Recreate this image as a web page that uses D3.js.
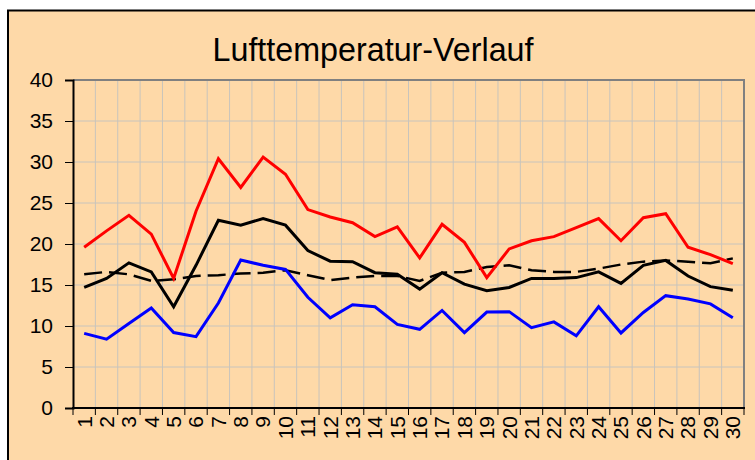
<!DOCTYPE html>
<html><head><meta charset="utf-8">
<script src="https://cdn.jsdelivr.net/npm/d3@7"></script>
<style>
html,body{margin:0;padding:0;background:#fff;}
svg{display:block;}
</style></head>
<body>
<svg id="chart" width="755" height="460"></svg>
<script>
const title = "Lufttemperatur-Verlauf";
const days = d3.range(1, 31).map(String);
const yTicks = [0, 5, 10, 15, 20, 25, 30, 35, 40];
const tMax = [19.6, 21.6, 23.5, 21.2, 15.8, 24.0, 30.4, 26.9, 30.6, 28.5, 24.2, 23.3, 22.6, 20.9, 22.1, 18.3, 22.4, 20.2, 15.9, 19.4, 20.4, 20.9, 22.0, 23.1, 20.4, 23.2, 23.7, 19.6, 18.7, 17.6];
const tMean = [14.7, 15.8, 17.7, 16.6, 12.35, 17.4, 22.9, 22.3, 23.1, 22.3, 19.2, 17.9, 17.85, 16.5, 16.3, 14.5, 16.5, 15.1, 14.3, 14.7, 15.8, 15.8, 15.9, 16.6, 15.2, 17.4, 18.0, 16.1, 14.8, 14.35];
const tMin = [9.1, 8.4, 10.3, 12.2, 9.2, 8.7, 12.8, 18.05, 17.4, 16.9, 13.5, 11.0, 12.6, 12.35, 10.2, 9.6, 11.9, 9.2, 11.7, 11.75, 9.8, 10.5, 8.8, 12.35, 9.15, 11.65, 13.7, 13.3, 12.7, 11.0];
const tNorm = [16.3, 16.6, 16.3, 15.5, 15.7, 16.1, 16.2, 16.4, 16.5, 16.8, 16.2, 15.6, 15.9, 16.1, 16.1, 15.5, 16.5, 16.6, 17.2, 17.4, 16.8, 16.6, 16.6, 17.0, 17.5, 17.85, 18.0, 17.85, 17.65, 18.25];

const bg = "#FED9A8";
const font = "Liberation Sans, Arial, Helvetica, sans-serif";
const svg = d3.select("#chart");

// outer frame
svg.append("rect").attr("x", 8).attr("y", 10.5).attr("width", 760).attr("height", 460)
  .attr("fill", bg).attr("stroke", "#000").attr("stroke-width", 2);

const L = 73, R = 744, T = 80, B = 408;
const x = d3.scaleBand().domain(days).range([L, R]);
const y = d3.scaleLinear().domain([0, 40]).range([B, T]);

// grid
const g = svg.append("g");
g.selectAll("line.h").data(yTicks.slice(1, -1)).join("line")
  .attr("x1", L).attr("x2", R).attr("y1", d => y(d)).attr("y2", d => y(d))
  .attr("stroke", "#C8C4BC").attr("stroke-width", 1);
g.selectAll("line.v").data(days.slice(1)).join("line")
  .attr("x1", d => x(d)).attr("x2", d => x(d)).attr("y1", T).attr("y2", B)
  .attr("stroke", "#C8C4BC").attr("stroke-width", 1);

// gray frame top/right
svg.append("path").attr("d", `M${L},${T}H${R}V${B}`).attr("fill", "none")
  .attr("stroke", "#808080").attr("stroke-width", 2);

// axes
const yAxis = d3.axisLeft(y).tickValues(yTicks).tickSize(8).tickPadding(12);
const ya = svg.append("g").attr("transform", `translate(${L},0)`).call(yAxis);
ya.select(".domain").attr("stroke", "#000").attr("stroke-width", 2);
ya.selectAll(".tick line").attr("stroke", "#000");
ya.selectAll("text").attr("font-family", font).attr("font-size", 21).attr("fill", "#000");

const xAxis = d3.axisBottom(x).tickSize(0).tickPadding(0);
const xa = svg.append("g").attr("transform", `translate(0,${B})`).call(xAxis);
xa.select(".domain").remove();
svg.append("line").attr("x1", L - 1).attr("x2", R + 1).attr("y1", B).attr("y2", B).attr("stroke", "#000").attr("stroke-width", 2);
svg.selectAll("line.xt").data(days.concat(["end"])).join("line")
  .attr("x1", (d, i) => L + i * x.step()).attr("x2", (d, i) => L + i * x.step())
  .attr("y1", B).attr("y2", B + 7).attr("stroke", "#000").attr("stroke-width", 1);
xa.selectAll(".tick text")
  .attr("font-family", font).attr("font-size", 21).attr("fill", "#000")
  .attr("text-anchor", "end").attr("dy", "0.35em")
  .attr("transform", "translate(0,8) rotate(-90)");

// lines
const line = d3.line().x((d, i) => x(days[i]) + x.bandwidth() / 2).y(d => y(d));
const series = [
  {v: tNorm, c: "#000", w: 2.5, dash: "18,7"},
  {v: tMin, c: "#0000FF", w: 3},
  {v: tMean, c: "#000", w: 3},
  {v: tMax, c: "#FF0000", w: 3}
];
series.forEach(s => {
  svg.append("path").datum(s.v).attr("d", line).attr("fill", "none")
    .attr("stroke", s.c).attr("stroke-width", s.w).attr("stroke-linejoin", "miter")
    .attr("stroke-dasharray", s.dash || null);
});

// title
svg.append("text").attr("x", 373).attr("y", 61).attr("text-anchor", "middle")
  .attr("font-family", font)
  .attr("font-size", 33).attr("fill", "#000")
  .attr("textLength", 321).attr("lengthAdjust", "spacingAndGlyphs").text(title);
</script>
</body></html>
